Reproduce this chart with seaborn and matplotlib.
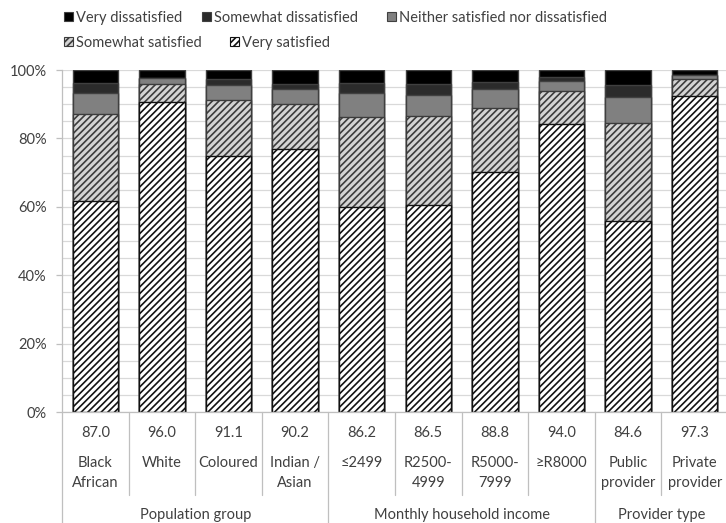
import numpy as np
import pandas as pd
import matplotlib
matplotlib.use("Agg")
import matplotlib.pyplot as plt
from matplotlib.patches import Patch
from matplotlib.ticker import MultipleLocator, FuncFormatter
import matplotlib.transforms as mtransforms
import seaborn as sns

# ---- data -------------------------------------------------------------
categories = ["Black\nAfrican", "White", "Coloured", "Indian /\nAsian",
              "≤2499", "R2500-\n4999", "R5000-\n7999", "≥R8000",
              "Public\nprovider", "Private\nprovider"]
groups = ["Population group", "Monthly household income", "Provider type"]
group_sizes = [4, 4, 2]

very_satisfied = [61.7, 90.6, 74.9, 77.0, 59.9, 60.4, 70.1, 84.2, 55.8, 92.4]
somewhat_satisfied = [25.3, 5.4, 16.2, 13.2, 26.3, 26.1, 18.7, 9.8, 28.8, 4.9]
neither = [6.4, 1.6, 4.5, 4.2, 7.0, 6.3, 5.6, 2.9, 7.6, 1.2]
somewhat_dissatisfied = [2.9, 0.2, 1.8, 1.5, 2.9, 3.1, 2.2, 1.1, 3.4, 0.1]
very_dissatisfied = [3.7, 2.2, 2.6, 4.1, 3.9, 4.1, 3.4, 2.0, 4.4, 1.4]

# ---- style ------------------------------------------------------------
sns.set_style("white")
plt.rcParams["font.family"] = ["Lato", "DejaVu Sans"]
plt.rcParams["hatch.linewidth"] = 1.2
TEXT = "#404040"
AXIS = "#bfbfbf"
GRID = "#d9d9d9"
FS = 10.5

layers = [
    ("Very satisfied", very_satisfied, "white", "#111111", "/////"),
    ("Somewhat satisfied", somewhat_satisfied, "#d4d4d4", "#3c3c3c", "/////"),
    ("Neither satisfied nor dissatisfied", neither, "#808080", "#404040", None),
    ("Somewhat dissatisfied", somewhat_dissatisfied, "#2b2b2b", "#404040", None),
    ("Very dissatisfied", very_dissatisfied, "#000000", "#404040", None),
]

df = pd.DataFrame({"category": categories})
running = np.zeros(len(categories))
for name, vals, *_ in layers:
    running = running + np.array(vals)
    df[name] = running

W, H = 726, 523
fig = plt.figure(figsize=(W / 100, H / 100), dpi=100)
ax = fig.add_axes([62 / W, (H - 412) / H, 666 / W, 342 / H])

# draw cumulative totals from the top layer down so lower layers sit in front
for name, vals, face, edge, hatch in reversed(layers):
    sns.barplot(data=df, x="category", y=name, ax=ax, color=face,
                saturation=1, width=0.68, edgecolor=edge, linewidth=1.0,
                hatch=hatch, order=categories, errorbar=None)

ax.set_xlim(-0.5, len(categories) - 0.5)
ax.set_ylim(0, 100)
ax.set_xlabel("")
ax.set_ylabel("")
ax.set_xticks([])
ax.yaxis.set_major_locator(MultipleLocator(20))
ax.yaxis.set_minor_locator(MultipleLocator(5))
ax.yaxis.set_major_formatter(FuncFormatter(lambda v, p: f"{v:.0f}%"))
ax.grid(axis="y", which="both", color=GRID, linewidth=0.9)
ax.set_axisbelow(True)
ax.tick_params(axis="y", which="major", length=4, width=0.9, color=AXIS,
               labelsize=FS, labelcolor=TEXT, pad=7, left=True)
ax.tick_params(axis="y", which="minor", length=0)
for side in ("top", "right"):
    ax.spines[side].set_visible(False)
for side in ("left", "bottom"):
    ax.spines[side].set_color(AXIS)
    ax.spines[side].set_linewidth(0.9)

# ---- category table below the axis -----------------------------------
trans = mtransforms.blended_transform_factory(ax.transData, ax.transAxes)
y_val = -21 / 342
y_line1 = -51 / 342
y_step = -20 / 342
y_group = -103 / 342
y_sep = -83 / 342

for i, cat in enumerate(categories):
    total = very_satisfied[i] + somewhat_satisfied[i]
    ax.text(i, y_val, f"{total:.1f}", transform=trans, ha="center",
            va="center", fontsize=FS, color=TEXT)
    for j, line in enumerate(cat.split("\n")):
        ax.text(i, y_line1 + j * y_step, line, transform=trans, ha="center",
                va="center", fontsize=FS, color=TEXT)

group_edges = np.concatenate([[0], np.cumsum(group_sizes)]) - 0.5
for k in range(1, len(categories)):
    x = k - 0.5
    bottom = -0.34 if np.isclose(group_edges, x).any() else y_sep
    ax.plot([x, x], [0, bottom], transform=trans, color=AXIS, lw=0.9,
            clip_on=False)
ax.plot([-0.5, -0.5], [0, -0.34], transform=trans, color=AXIS, lw=0.9,
        clip_on=False)

for g, lo, hi in zip(groups, group_edges[:-1], group_edges[1:]):
    ax.text((lo + hi) / 2, y_group, g, transform=trans, ha="center",
            va="center", fontsize=FS, color=TEXT)

# ---- legend -----------------------------------------------------------
style = {name: (face, edge, hatch) for name, _, face, edge, hatch in layers}
legend_slots = [
    ("Very dissatisfied", 64, 18),
    ("Somewhat dissatisfied", 202, 18),
    ("Neither satisfied nor dissatisfied", 387, 18),
    ("Somewhat satisfied", 64, 43),
    ("Very satisfied", 230, 43),
]
for name, px, py in legend_slots:
    face, edge, hatch = style[name]
    h = Patch(facecolor=face, edgecolor=edge, hatch=hatch, linewidth=0.8)
    leg = fig.legend([h], [name], loc="center left",
                     bbox_to_anchor=(px / W, 1 - py / H), frameon=False,
                     fontsize=FS, handlelength=0.6, handleheight=0.6,
                     handletextpad=0.25, borderpad=0, borderaxespad=0)
    for t in leg.get_texts():
        t.set_color(TEXT)

fig.savefig("out.png", dpi=100)
